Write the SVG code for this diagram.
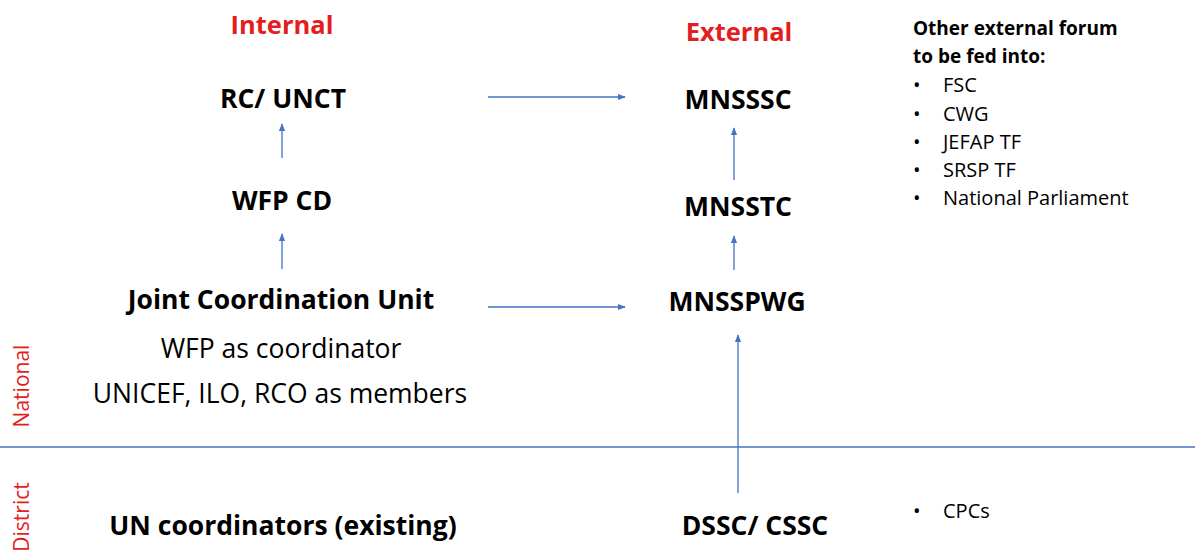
<svg xmlns="http://www.w3.org/2000/svg" width="1195" height="550" viewBox="0 0 1195 550">
<defs>
<marker id="ah" viewBox="0 0 10 10" refX="9" refY="5" markerWidth="8" markerHeight="8" markerUnits="userSpaceOnUse" orient="auto"><path d="M0,1 L10,5 L0,9 z" fill="#4472C4"/></marker>
<style>
text{font-family:"Open Sans","Liberation Sans",sans-serif;}
.hd{fill:#E41E1E;font-weight:bold;font-size:25.5px;text-anchor:middle;}
.nb{fill:#000;font-weight:bold;font-size:26.5px;text-anchor:middle;}
.nr{fill:#000;font-size:26.5px;text-anchor:middle;}
.side{fill:#E41E1E;font-size:21px;text-anchor:middle;}
.rb{fill:#000;font-weight:bold;font-size:19px;}
.rr{fill:#000;font-size:20px;}
.c{stroke:#4472C4;stroke-width:1.3;fill:none;marker-end:url(#ah);}
</style>
</defs>
<rect width="1195" height="550" fill="#fff"/>
<line x1="0" y1="447" x2="1195" y2="447" stroke="#4472C4" stroke-width="1.3"/>
<text class="side" transform="translate(29,386) rotate(-90)">National</text>
<text class="side" transform="translate(29,517) rotate(-90)">District</text>
<text class="hd" x="282" y="34">Internal</text>
<text class="hd" x="739" y="41">External</text>
<g id="rc-unct"><text class="nb" x="283" y="108">RC/ UNCT</text></g>
<g id="wfp-cd"><text class="nb" x="282" y="210">WFP CD</text></g>
<g id="jcu"><text class="nb" x="281" y="309">Joint Coordination Unit</text>
<text class="nr" x="281" y="358">WFP as coordinator</text>
<text class="nr" x="280" y="403">UNICEF, ILO, RCO as members</text></g>
<g id="un-coord"><text class="nb" x="283" y="535">UN coordinators (existing)</text></g>
<g id="mnsssc"><text class="nb" x="738" y="109">MNSSSC</text></g>
<g id="mnsstc"><text class="nb" x="738" y="216">MNSSTC</text></g>
<g id="mnsspwg"><text class="nb" x="737" y="311">MNSSPWG</text></g>
<g id="dssc"><text class="nb" x="755" y="535">DSSC/ CSSC</text></g>
<g id="other">
<text class="rb" x="913" y="35">Other external forum</text>
<text class="rb" x="913" y="63">to be fed into:</text>
<text class="rr" x="913" y="92">•</text><text class="rr" x="943" y="92">FSC</text>
<text class="rr" x="913" y="121">•</text><text class="rr" x="943" y="121">CWG</text>
<text class="rr" x="913" y="149">•</text><text class="rr" x="943" y="149">JEFAP TF</text>
<text class="rr" x="913" y="177">•</text><text class="rr" x="943" y="177">SRSP TF</text>
<text class="rr" x="913" y="205">•</text><text class="rr" x="943" y="205">National Parliament</text>
</g>
<g id="cpcs"><text class="rr" x="913" y="518">•</text><text class="rr" x="943" y="518">CPCs</text></g>
<g id="connectors">
<line class="c" x1="488" y1="97" x2="625" y2="97"/>
<line class="c" x1="488" y1="307" x2="625" y2="307"/>
<line class="c" x1="282" y1="158" x2="282" y2="124"/>
<line class="c" x1="282" y1="269" x2="282" y2="234"/>
<line class="c" x1="734" y1="180" x2="734" y2="128"/>
<line class="c" x1="734" y1="270" x2="734" y2="236"/>
<line class="c" x1="738" y1="493" x2="738" y2="335"/>
</g>
</svg>
